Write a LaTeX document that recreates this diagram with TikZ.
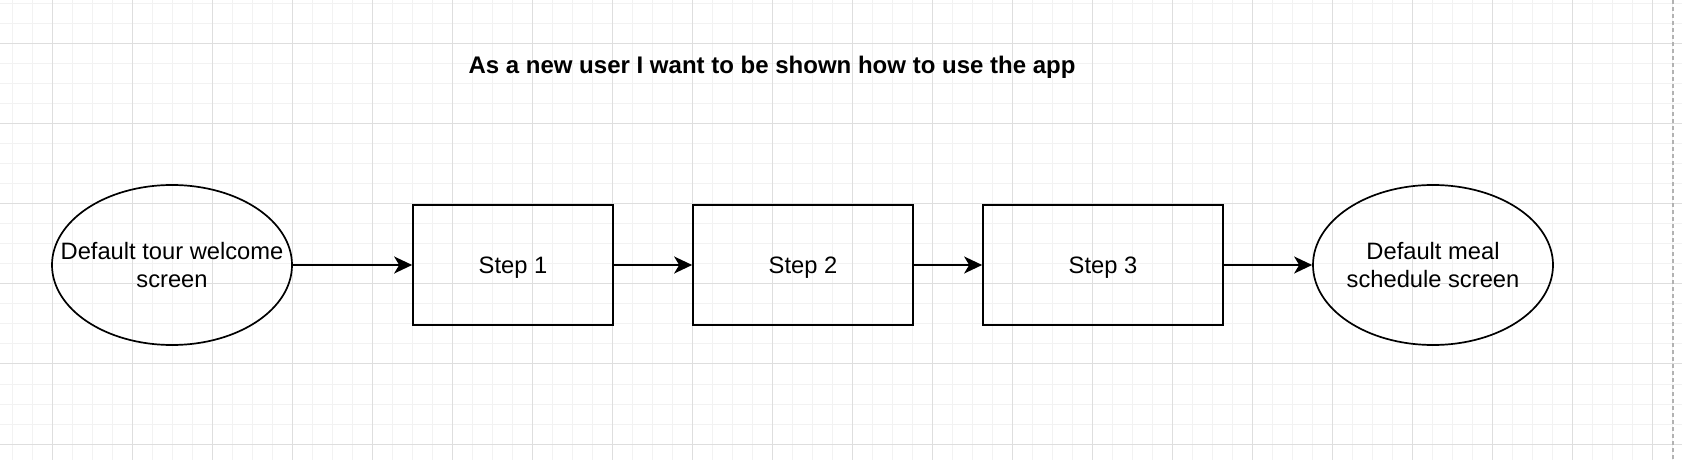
\documentclass[tikz,border=0pt]{standalone}
\usepackage{fontspec}
\setmainfont{Liberation Sans}
\usetikzlibrary{shapes.geometric,arrows.meta}

\definecolor{gridminor}{HTML}{F2F2F2}
\definecolor{gridmajor}{HTML}{DEDEDE}

\tikzset{
  stepbox/.style={draw,line width=1.7bp,minimum width=#1,minimum height=120bp,inner sep=0pt,
    text depth=0pt,font=\fontsize{23.8}{27.5}\selectfont},
  screen/.style={draw,ellipse,line width=1.7bp,minimum width=240bp,minimum height=160bp,
    inner xsep=-30bp,inner ysep=0pt,align=center,font=\fontsize{23.8}{27.5}\selectfont},
  flow/.style={-{Stealth[length=18bp,width=17bp,inset=5bp]},line width=1.7bp}
}

\begin{document}
\begin{tikzpicture}[x=1bp,y=-1bp]

    \useasboundingbox (0,0) rectangle (1682,460);
    \fill[white] (0,0) rectangle (1682,460);

    % Background grid
    \foreach \gx in {12,32,...,1672} {
        \draw [gridminor,line width=1bp] (\gx,0) -- (\gx,460);
    }
    \foreach \gy in {4,24,...,444} {
        \draw [gridminor,line width=1bp] (0,\gy) -- (1682,\gy);
    }
    \foreach \gx in {52,132,...,1652} {
        \draw [gridmajor,line width=1bp] (\gx,0) -- (\gx,460);
    }
    \foreach \gy in {44,124,...,444} {
        \draw [gridmajor,line width=1bp] (0,\gy) -- (1682,\gy);
    }
    \draw [gray!60,line width=1.2bp,dash pattern=on 4bp off 3bp] (1673,0) -- (1673,460);

    % Title
    \node (title) at (772,67) {\fontsize{24.1}{27.5}\selectfont\bfseries As a new user I want to be shown how to use the app};

    % Screens and steps
    \node [screen] (welcome) at (172,265) {Default tour welcome\\screen};
    \node [stepbox=200bp] (step1) at (513,265) {Step 1};
    \node [stepbox=220bp] (step2) at (803,265) {Step 2};
    \node [stepbox=240bp] (step3) at (1103,265) {Step 3};
    \node [screen] (schedule) at (1433,265) {Default meal\\schedule screen};

    \draw [flow] (welcome) -- (step1);
    \draw [flow] (step1) -- (step2);
    \draw [flow] (step2) -- (step3);
    \draw [flow] (step3) -- (schedule);

\end{tikzpicture}
\end{document}
